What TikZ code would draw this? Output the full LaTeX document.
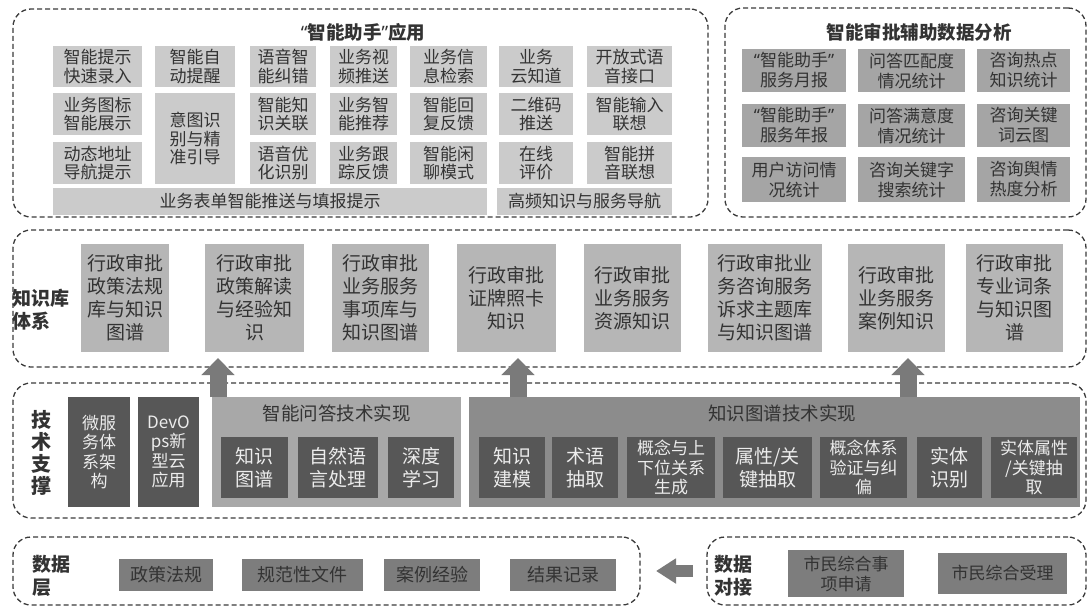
\documentclass[tikz,border=0pt]{standalone}
\usepackage{fontspec}
\setmainfont{Noto Sans CJK SC}
\newfontfamily\latq{Noto Sans}
\usetikzlibrary{arrows.meta}
\newcommand{\myoq}{{\latq “}}
\newcommand{\mycq}{{\latq ”}}
\definecolor{dashc}{HTML}{3A3A3A}
\definecolor{txt}{HTML}{333333}
\definecolor{tlc}{HTML}{CBCBCB}
\definecolor{trc}{HTML}{A5A5A5}
\definecolor{kbc}{HTML}{B6B6B6}
\definecolor{dkc}{HTML}{575757}
\definecolor{dkt}{HTML}{ECECEC}
\definecolor{qac}{HTML}{A8A8A8}
\definecolor{kgc}{HTML}{8C8C8C}
\definecolor{dbc}{HTML}{7D7D7D}
\definecolor{arc}{HTML}{7A7A7A}
\tikzset{
  blk/.style={draw=dashc, line width=1.3pt, dash pattern=on 5pt off 3pt, rounded corners=18pt, inner sep=0pt},
  wh/.style 2 args={minimum width=#1, minimum height=#2},
  base/.style={inner sep=0pt, align=center, text=txt},
  tl/.style={base, fill=tlc, font=\fontsize{17}{18.5}\selectfont},
  tr/.style={base, fill=trc, font=\fontsize{17}{20}\selectfont},
  kb/.style={base, fill=kbc, font=\fontsize{19}{23}\selectfont},
  dk/.style={base, fill=dkc, text=dkt, font=\fontsize{19}{23}\selectfont},
  dks/.style={dk, font=\fontsize{17}{19.5}\selectfont},
  db/.style={base, fill=dbc, font=\fontsize{18}{20}\selectfont},
  ttl/.style={text=txt, inner sep=0pt, font=\fontsize{18.5}{20}\selectfont},
  bttl/.style={ttl, font=\bfseries\fontsize{18.5}{20}\selectfont},
  lbl/.style={text=txt, inner sep=0pt, font=\bfseries\fontsize{19}{23}\selectfont, align=left},
  uparrow/.style={draw=arc, line width=17pt, -{Triangle[width=32pt,length=17pt]}, color=arc},
  larrow/.style={draw=arc, line width=12pt, -{Triangle[width=24pt,length=20pt]}, color=arc}
}
\begin{document}
\begin{tikzpicture}[x=1pt,y=-1pt]
\useasboundingbox (0,0) rectangle (1092,608);
% ---------- top-left block ----------
\node[blk, wh={695}{208}] (app) at (360.5,113) {};
\node[bttl] (appt) at (363,32) {\myoq 智能助手\mycq 应用};
% row 1
\node[tl, wh={89}{41}] (a11) at (97.5,66.5) {智能提示\\快速录入};
\node[tl, wh={80}{41}] (a12) at (195,66.5) {智能自\\动提醒};
\node[tl, wh={66}{41}] (a13) at (283,66.5) {语音智\\能纠错};
\node[tl, wh={67}{41}] (a14) at (363.5,66.5) {业务视\\频推送};
\node[tl, wh={77}{41}] (a15) at (448.5,66.5) {业务信\\息检索};
\node[tl, wh={74}{41}] (a16) at (536,66.5) {业务\\云知道};
\node[tl, wh={85}{41}] (a17) at (629.5,66.5) {开放式语\\音接口};
% row 2
\node[tl, wh={89}{42}] (a21) at (97.5,114) {业务图标\\智能展示};
\node[tl, wh={80}{91}] (a22) at (195,138.5) {意图识\\别与精\\准引导};
\node[tl, wh={66}{42}] (a23) at (283,114) {智能知\\识关联};
\node[tl, wh={67}{42}] (a24) at (363.5,114) {业务智\\能推荐};
\node[tl, wh={77}{42}] (a25) at (448.5,114) {智能回\\复反馈};
\node[tl, wh={74}{42}] (a26) at (536,114) {二维码\\推送};
\node[tl, wh={85}{42}] (a27) at (629.5,114) {智能输入\\联想};
% row 3
\node[tl, wh={89}{42}] (a31) at (97.5,163) {动态地址\\导航提示};
\node[tl, wh={66}{42}] (a33) at (283,163) {语音优\\化识别};
\node[tl, wh={67}{42}] (a34) at (363.5,163) {业务跟\\踪反馈};
\node[tl, wh={77}{42}] (a35) at (448.5,163) {智能闲\\聊模式};
\node[tl, wh={74}{42}] (a36) at (536,163) {在线\\评价};
\node[tl, wh={85}{42}] (a37) at (629.5,163) {智能拼\\音联想};
% row 4
\node[tl, wh={434}{27}] (a41) at (270,201.5) {业务表单智能推送与填报提示};
\node[tl, wh={175}{27}] (a42) at (584.5,201.5) {高频知识与服务导航};
% ---------- top-right block ----------
\node[blk, wh={361}{209}] (ana) at (905.5,112.5) {};
\node[bttl] (anat) at (919,32) {智能审批辅助数据分析};
\node[tr, wh={104}{43}] (s11) at (794,70.5) {\myoq 智能助手\mycq\\服务月报};
\node[tr, wh={107}{43}] (s12) at (911.5,70.5) {问答匹配度\\情况统计};
\node[tr, wh={93}{43}] (s13) at (1023.5,70.5) {咨询热点\\知识统计};
\node[tr, wh={104}{43}] (s21) at (794,125.5) {\myoq 智能助手\mycq\\服务年报};
\node[tr, wh={107}{43}] (s22) at (911.5,125.5) {问答满意度\\情况统计};
\node[tr, wh={93}{43}] (s23) at (1023.5,125.5) {咨询关键\\词云图};
\node[tr, wh={104}{45}] (s31) at (794,179.5) {用户访问情\\况统计};
\node[tr, wh={107}{45}] (s32) at (911.5,179.5) {咨询关键字\\搜索统计};
\node[tr, wh={93}{45}] (s33) at (1023.5,179.5) {咨询舆情\\热度分析};
% ---------- knowledge base block ----------
\node[blk, wh={1073}{137}] (kbs) at (549.5,298.5) {};
\node[lbl] (kbl) at (41,310) {知识库\\体系};
\node[kb, wh={88}{108}] (b1) at (125,298) {行政审批\\政策法规\\库与知识\\图谱};
\node[kb, wh={99}{108}] (b2) at (254.5,298) {行政审批\\政策解读\\与经验知\\识};
\node[kb, wh={97}{108}] (b3) at (380.5,298) {行政审批\\业务服务\\事项库与\\知识图谱};
\node[kb, wh={99}{108}] (b4) at (506.5,298) {行政审批\\证牌照卡\\知识};
\node[kb, wh={97}{108}] (b5) at (632.5,298) {行政审批\\业务服务\\资源知识};
\node[kb, wh={114}{108}] (b6) at (765,298) {行政审批业\\务咨询服务\\诉求主题库\\与知识图谱};
\node[kb, wh={97}{108}] (b7) at (896.5,298) {行政审批\\业务服务\\案例知识};
\node[kb, wh={97}{108}] (b8) at (1014.5,298) {行政审批\\专业词条\\与知识图\\谱};
% ---------- technical support block ----------
\node[blk, wh={1073}{135}] (tech) at (549.5,450.5) {};
\node[lbl, align=center, font=\bfseries\fontsize{20}{22.3}\selectfont] (techl) at (41,453) {技\\术\\支\\撑};
\node[dks, wh={62}{110}] (ms) at (99,452) {微服\\务体\\系架\\构};
\node[dks, wh={61}{110}] (dev) at (168.5,452) {DevO\\ps新\\型云\\应用};
\node[base, fill=qac, wh={249}{110}] (qa) at (336.5,452) {};
\node[ttl] (qat) at (336.5,413) {智能问答技术实现};
\node[dk, wh={67}{61}] (q1) at (254.5,467.5) {知识\\图谱};
\node[dk, wh={80}{61}] (q2) at (338,467.5) {自然语\\言处理};
\node[dk, wh={66}{61}] (q3) at (421,467.5) {深度\\学习};
\node[base, fill=kgc, wh={611}{110}] (kg) at (774.5,452) {};
\node[ttl] (kgt) at (782,413) {知识图谱技术实现};
\node[dk, wh={66}{61}] (k1) at (512,467.5) {知识\\建模};
\node[dk, wh={66}{61}] (k2) at (585,467.5) {术语\\抽取};
\node[dks, wh={88}{61}] (k3) at (671,467.5) {概念与上\\下位关系\\生成};
\node[dk, wh={89}{61}] (k4) at (767.5,467.5) {属性/关\\键抽取};
\node[dks, wh={87}{61}] (k5) at (863.5,467.5) {概念体系\\验证与纠\\偏};
\node[dk, wh={65}{61}] (k6) at (949.5,467.5) {实体\\识别};
\node[dks, wh={86}{61}] (k7) at (1034,467.5) {实体属性\\/关键抽\\取};
% up arrows
\coordinate (u1s) at (218,397); \coordinate (u1e) at (218,358);
\coordinate (u2s) at (518,397); \coordinate (u2e) at (518,358);
\coordinate (u3s) at (908,397); \coordinate (u3e) at (908,358);
\draw[uparrow] (u1s) -- (u1e);
\draw[uparrow] (u2s) -- (u2e);
\draw[uparrow] (u3s) -- (u3e);
% ---------- data layer ----------
\node[blk, wh={627}{68}] (dl) at (326.5,571) {};
\node[lbl] (dll) at (51,576) {数据\\层};
\node[db, wh={94}{32}] (d1) at (166,575) {政策法规};
\node[db, wh={121}{32}] (d2) at (302.5,575) {规范性文件};
\node[db, wh={96}{32}] (d3) at (432,575) {案例经验};
\node[db, wh={106}{32}] (d4) at (563,575) {结果记录};
\node[blk, wh={379}{68}] (dr) at (896.5,571) {};
\node[lbl] (drl) at (733,576) {数据\\对接};
\node[db, wh={116}{47}, font=\fontsize{17}{20}\selectfont] (e1) at (846,573.5) {市民综合事\\项申请};
\node[db, wh={129}{41}, font=\fontsize{17}{20}\selectfont] (e2) at (1002.5,573.5) {市民综合受理};
\coordinate (la) at (693,571); \coordinate (lb) at (656,571);
\draw[larrow] (la) -- (lb);
\end{tikzpicture}
\end{document}
